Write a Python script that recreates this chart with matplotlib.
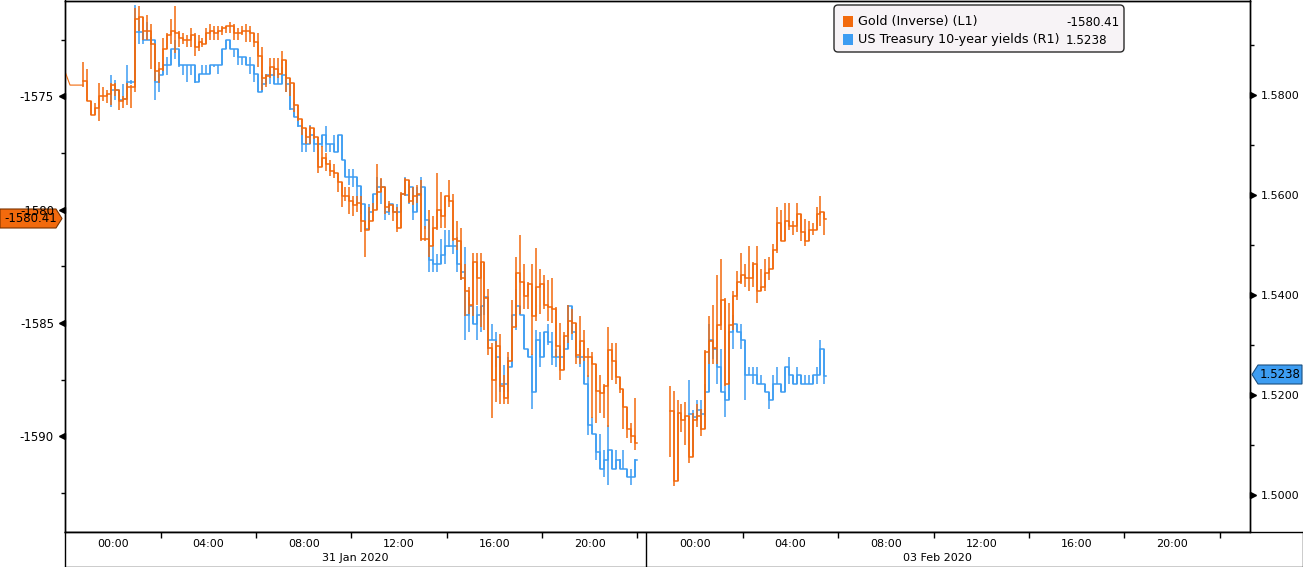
import numpy as np
import matplotlib
matplotlib.use("Agg")
import matplotlib.pyplot as plt
from matplotlib.patches import FancyBboxPatch, Polygon, Rectangle
from matplotlib.transforms import IdentityTransform, blended_transform_factory

# Données (barres de 10 minutes) - heures depuis 31 Jan 00:00 ; la séance du 03 Feb est décalée de 24.43 h
debut_j1 = -1.25
debut_j2 = 24.43 - 1.08
pas = 1 / 6
decalage_j2 = 24.43

heures_avant = [-2.02, -1.81, -1.26]
or_avant = [-1573.9, -1574.5, -1574.5]

or_close_j1 = [
    -1574.3, -1575.2, -1575.8, -1575.5, -1575.0, -1575.0, -1574.9, -1574.5, -1574.7, -1575.2,
    -1575.1, -1574.6, -1574.6, -1571.6, -1571.5, -1572.1, -1572.1, -1572.7, -1573.9, -1573.8,
    -1572.9, -1572.3, -1572.1, -1572.2, -1572.4, -1572.5, -1572.5, -1572.3, -1572.8, -1572.6,
    -1572.7, -1572.2, -1572.1, -1572.2, -1572.1, -1572.0, -1571.9, -1571.9, -1572.2, -1572.2,
    -1572.1, -1572.1, -1572.2, -1572.6, -1573.2, -1574.2, -1574.1, -1573.7, -1573.8, -1574.0,
    -1573.4, -1574.2, -1574.4, -1575.4, -1576.0, -1576.4, -1576.8, -1576.4, -1576.8, -1578.1,
    -1577.7, -1578.0, -1578.3, -1578.4, -1578.8, -1579.4, -1579.4, -1579.6, -1579.8, -1579.7,
    -1580.5, -1580.9, -1580.5, -1580.0, -1579.2, -1579.0, -1579.9, -1579.8, -1580.1, -1580.8,
    -1579.3, -1578.7, -1579.6, -1579.4, -1579.3, -1581.3, -1581.3, -1581.6, -1580.8, -1580.0,
    -1580.3, -1579.4, -1579.6, -1581.3, -1581.4, -1583.0, -1583.6, -1584.2, -1582.3, -1583.0,
    -1582.3, -1583.9, -1586.1, -1587.5, -1586.0, -1587.8, -1588.3, -1586.7, -1585.2, -1582.8,
    -1583.2, -1583.8, -1583.3, -1584.7, -1583.4, -1583.3, -1584.2, -1584.3, -1584.4, -1586.0,
    -1587.1, -1585.6, -1584.9, -1585.0, -1586.4, -1585.8, -1586.5, -1586.5, -1586.8, -1588.0,
    -1588.1, -1587.8, -1586.2, -1586.7, -1587.4, -1587.9, -1588.7, -1589.7, -1590.0, -1590.3,
]
or_haut_j1 = [
    -1573.5, -1573.8, -1575.2, -1575.3, -1574.4, -1574.6, -1574.7, -1574.4, -1574.4, -1574.7,
    -1575.0, -1574.4, -1574.5, -1571.1, -1571.0, -1571.6, -1571.4, -1571.8, -1573.3, -1573.5,
    -1572.4, -1572.2, -1571.6, -1571.0, -1572.1, -1572.2, -1572.3, -1572.0, -1572.2, -1572.3,
    -1572.4, -1572.0, -1571.8, -1571.9, -1571.9, -1571.9, -1571.9, -1571.7, -1571.8, -1572.0,
    -1571.9, -1571.8, -1571.9, -1572.2, -1572.2, -1572.8, -1574.0, -1573.3, -1573.3, -1573.3,
    -1573.0, -1573.5, -1574.2, -1574.8, -1575.4, -1576.1, -1576.7, -1576.3, -1576.4, -1577.3,
    -1577.2, -1577.5, -1577.8, -1578.0, -1578.4, -1578.9, -1579.0, -1579.0, -1579.4, -1579.4,
    -1579.4, -1580.5, -1579.9, -1579.7, -1578.0, -1578.6, -1579.4, -1579.6, -1579.8, -1579.9,
    -1579.2, -1578.6, -1579.4, -1579.0, -1578.9, -1578.7, -1580.7, -1580.0, -1580.3, -1578.4,
    -1579.2, -1579.4, -1578.7, -1579.3, -1580.5, -1580.8, -1582.4, -1583.4, -1581.9, -1581.9,
    -1581.9, -1583.2, -1583.5, -1585.9, -1585.8, -1585.5, -1587.3, -1586.3, -1584.0, -1582.1,
    -1581.1, -1582.4, -1583.2, -1582.4, -1581.7, -1582.6, -1582.9, -1583.1, -1583.0, -1584.3,
    -1585.0, -1585.4, -1584.2, -1584.4, -1585.3, -1584.7, -1585.3, -1586.1, -1586.3, -1587.4,
    -1587.3, -1587.7, -1585.2, -1585.9, -1585.9, -1587.5, -1588.0, -1588.8, -1589.4, -1588.3,
]
or_bas_j1 = [
    -1574.6, -1575.2, -1575.8, -1575.8, -1576.1, -1575.2, -1575.3, -1575.4, -1575.0, -1575.6,
    -1575.5, -1575.4, -1575.5, -1574.8, -1572.1, -1572.5, -1572.5, -1573.8, -1574.3, -1574.4,
    -1573.9, -1572.9, -1572.7, -1573.1, -1572.8, -1572.7, -1572.8, -1572.8, -1573.2, -1573.0,
    -1572.8, -1572.6, -1572.5, -1572.5, -1572.5, -1572.3, -1572.2, -1572.2, -1572.5, -1572.5,
    -1572.3, -1572.6, -1572.6, -1572.8, -1573.7, -1574.7, -1574.6, -1574.2, -1574.1, -1574.2,
    -1574.0, -1574.8, -1575.0, -1575.7, -1576.1, -1576.7, -1577.1, -1577.1, -1576.9, -1578.4,
    -1578.1, -1578.3, -1578.5, -1578.6, -1579.2, -1579.9, -1579.6, -1580.2, -1580.3, -1580.1,
    -1581.0, -1582.1, -1580.8, -1580.3, -1579.4, -1579.2, -1580.2, -1580.1, -1580.5, -1581.0,
    -1579.8, -1579.4, -1579.7, -1579.8, -1579.7, -1581.4, -1581.4, -1582.1, -1580.9, -1580.9,
    -1580.8, -1580.8, -1579.9, -1581.4, -1581.8, -1583.1, -1584.7, -1584.6, -1584.7, -1584.2,
    -1585.2, -1585.3, -1586.4, -1589.2, -1588.5, -1588.6, -1588.6, -1588.6, -1586.7, -1585.0,
    -1584.6, -1584.4, -1584.4, -1586.4, -1584.9, -1584.6, -1584.4, -1584.9, -1585.0, -1586.5,
    -1587.5, -1586.5, -1585.9, -1585.5, -1586.8, -1586.8, -1586.7, -1587.4, -1589.2, -1589.4,
    -1589.0, -1589.2, -1589.6, -1587.5, -1587.7, -1588.1, -1589.7, -1590.1, -1590.3, -1590.6,
]

or_close_j2 = [
    -1588.9, -1592.0, -1589.0, -1589.3, -1589.1, -1590.9, -1589.3, -1589.1, -1589.7, -1586.3,
    -1585.8, -1586.1, -1585.1, -1584.0, -1587.7, -1585.1, -1583.8, -1583.2, -1582.9, -1583.0,
    -1583.0, -1582.4, -1583.6, -1583.4, -1582.8, -1582.6, -1581.8, -1580.6, -1581.4, -1580.5,
    -1580.7, -1580.7, -1580.2, -1581.0, -1581.4, -1580.9, -1580.9, -1580.2, -1580.1, -1580.41,
]
or_haut_j2 = [
    -1587.8, -1588.0, -1588.4, -1588.6, -1588.5, -1589.9, -1589.0, -1588.6, -1588.8, -1586.2,
    -1584.7, -1584.2, -1582.9, -1582.2, -1583.9, -1584.1, -1583.6, -1582.7, -1581.9, -1582.4,
    -1581.6, -1582.3, -1581.6, -1582.6, -1582.2, -1582.1, -1581.5, -1579.9, -1580.0, -1579.7,
    -1579.7, -1580.5, -1579.7, -1580.3, -1580.4, -1580.5, -1580.6, -1579.9, -1579.4, -1580.3,
]
or_bas_j2 = [
    -1590.9, -1592.2, -1589.9, -1589.8, -1590.4, -1591.2, -1590.0, -1589.6, -1590.0, -1588.9,
    -1586.8, -1586.8, -1586.8, -1585.3, -1587.8, -1586.6, -1585.3, -1584.0, -1583.3, -1583.4,
    -1583.6, -1583.4, -1584.1, -1583.6, -1583.6, -1583.1, -1582.6, -1581.9, -1581.4, -1581.4,
    -1580.9, -1581.1, -1581.0, -1581.4, -1581.6, -1581.2, -1581.1, -1580.5, -1580.7, -1581.1,
]

taux_close_j1 = [
    None, None, None, None, None, None, None, 1.5810, 1.5810, 1.5791,
    1.5793, 1.5827, 1.5827, 1.5927, 1.5927, 1.5911, 1.5911, 1.5911, 1.5827, 1.5840,
    1.5860, 1.5860, 1.5893, 1.5893, 1.5860, 1.5860, 1.5860, 1.5860, 1.5827, 1.5843,
    1.5843, 1.5843, 1.5860, 1.5860, 1.5860, 1.5893, 1.5911, 1.5893, 1.5893, 1.5877,
    1.5877, 1.5860, 1.5860, 1.5843, 1.5807, 1.5823, 1.5840, 1.5840, 1.5823, 1.5823,
    1.5840, 1.5823, 1.5773, 1.5757, 1.5738, 1.5703, 1.5703, 1.5721, 1.5703, 1.5703,
    1.5721, 1.5703, 1.5703, 1.5687, 1.5721, 1.5670, 1.5637, 1.5637, 1.5637, 1.5618,
    1.5583, 1.5533, 1.5567, 1.5603, 1.5617, 1.5617, 1.5567, 1.5583, 1.5567, 1.5567,
    1.5603, 1.5600, 1.5617, 1.5567, 1.5600, 1.5617, 1.5550, 1.5470, 1.5463, 1.5463,
    1.5480, 1.5498, 1.5498, 1.5498, 1.5463, 1.5447, 1.5361, 1.5378, 1.5343, 1.5361,
    1.5378, 1.5397, 1.5310, 1.5310, 1.5277, 1.5223, 1.5223, 1.5257, 1.5360, 1.5378,
    1.5360, 1.5293, 1.5277, 1.5207, 1.5310, 1.5277, 1.5327, 1.5307, 1.5277, 1.5277,
    1.5277, 1.5293, 1.5378, 1.5327, 1.5277, 1.5277, 1.5223, 1.5140, 1.5123, 1.5087,
    1.5053, 1.5070, 1.5090, 1.5053, 1.5070, 1.5053, 1.5053, 1.5037, 1.5037, 1.5070,
]
taux_haut_j1 = [
    None, None, None, None, None, None, None, 1.5840, 1.5830, 1.5810,
    1.5823, 1.5860, 1.5830, 1.5980, 1.5950, 1.5927, 1.5947, 1.5917, 1.5911, 1.5847,
    1.5860, 1.5877, 1.5893, 1.5911, 1.5877, 1.5860, 1.5860, 1.5860, 1.5860, 1.5843,
    1.5860, 1.5860, 1.5860, 1.5860, 1.5860, 1.5893, 1.5911, 1.5911, 1.5893, 1.5893,
    1.5877, 1.5877, 1.5877, 1.5860, 1.5827, 1.5840, 1.5840, 1.5857, 1.5857, 1.5843,
    1.5857, 1.5843, 1.5823, 1.5787, 1.5757, 1.5737, 1.5720, 1.5740, 1.5723, 1.5703,
    1.5721, 1.5738, 1.5703, 1.5721, 1.5721, 1.5721, 1.5653, 1.5653, 1.5653, 1.5620,
    1.5602, 1.5583, 1.5583, 1.5603, 1.5637, 1.5633, 1.5583, 1.5583, 1.5583, 1.5583,
    1.5603, 1.5637, 1.5623, 1.5583, 1.5617, 1.5637, 1.5617, 1.5533, 1.5500, 1.5483,
    1.5513, 1.5530, 1.5530, 1.5550, 1.5517, 1.5463, 1.5497, 1.5397, 1.5378, 1.5378,
    1.5378, 1.5397, 1.5397, 1.5343, 1.5327, 1.5277, 1.5260, 1.5277, 1.5360, 1.5413,
    1.5378, 1.5360, 1.5293, 1.5283, 1.5330, 1.5327, 1.5327, 1.5343, 1.5327, 1.5293,
    1.5293, 1.5310, 1.5380, 1.5360, 1.5327, 1.5293, 1.5283, 1.5240, 1.5157, 1.5123,
    1.5123, 1.5090, 1.5140, 1.5090, 1.5090, 1.5073, 1.5090, 1.5053, 1.5053, 1.5073,
]
taux_bas_j1 = [
    None, None, None, None, None, None, None, 1.5777, 1.5790, 1.5790,
    1.5790, 1.5823, 1.5823, 1.5827, 1.5903, 1.5903, 1.5910, 1.5900, 1.5790, 1.5807,
    1.5840, 1.5840, 1.5860, 1.5873, 1.5857, 1.5840, 1.5827, 1.5840, 1.5825, 1.5827,
    1.5843, 1.5843, 1.5843, 1.5857, 1.5843, 1.5860, 1.5893, 1.5893, 1.5877, 1.5860,
    1.5860, 1.5860, 1.5843, 1.5827, 1.5807, 1.5807, 1.5823, 1.5823, 1.5823, 1.5823,
    1.5823, 1.5807, 1.5770, 1.5757, 1.5737, 1.5687, 1.5687, 1.5720, 1.5687, 1.5670,
    1.5697, 1.5687, 1.5687, 1.5687, 1.5687, 1.5670, 1.5637, 1.5620, 1.5617, 1.5583,
    1.5563, 1.5530, 1.5563, 1.5567, 1.5600, 1.5583, 1.5550, 1.5560, 1.5567, 1.5563,
    1.5567, 1.5600, 1.5583, 1.5550, 1.5583, 1.5600, 1.5533, 1.5447, 1.5447, 1.5447,
    1.5480, 1.5463, 1.5497, 1.5483, 1.5447, 1.5430, 1.5310, 1.5327, 1.5343, 1.5310,
    1.5327, 1.5360, 1.5293, 1.5310, 1.5257, 1.5207, 1.5207, 1.5207, 1.5257, 1.5330,
    1.5360, 1.5293, 1.5277, 1.5173, 1.5207, 1.5257, 1.5277, 1.5300, 1.5260, 1.5257,
    1.5257, 1.5277, 1.5330, 1.5310, 1.5277, 1.5257, 1.5223, 1.5120, 1.5123, 1.5070,
    1.5053, 1.5037, 1.5020, 1.5053, 1.5053, 1.5053, 1.5053, 1.5037, 1.5020, 1.5037,
]

taux_close_j2 = [
    None, None, None, None, None, 1.5163, 1.5157, 1.5170, 1.5163, 1.5207,
    1.5310, 1.5293, 1.5257, 1.5207, 1.5190, 1.5327, 1.5343, 1.5327, 1.5310, 1.5240,
    1.5240, 1.5240, 1.5223, 1.5223, 1.5207, 1.5190, 1.5223, 1.5223, 1.5207, 1.5257,
    1.5240, 1.5223, 1.5240, 1.5223, 1.5223, 1.5223, 1.5240, 1.5240, 1.5293, 1.5238,
]
taux_haut_j2 = [
    None, None, None, None, None, 1.5230, 1.5170, 1.5190, 1.5190, 1.5223,
    1.5343, 1.5310, 1.5293, 1.5293, 1.5223, 1.5327, 1.5360, 1.5343, 1.5343, 1.5310,
    1.5257, 1.5257, 1.5257, 1.5240, 1.5223, 1.5207, 1.5240, 1.5257, 1.5223, 1.5257,
    1.5277, 1.5240, 1.5257, 1.5240, 1.5240, 1.5240, 1.5240, 1.5257, 1.5310, 1.5293,
]
taux_bas_j2 = [
    None, None, None, None, None, 1.5150, 1.5087, 1.5150, 1.5130, 1.5157,
    1.5207, 1.5273, 1.5223, 1.5207, 1.5157, 1.5190, 1.5293, 1.5327, 1.5293, 1.5190,
    1.5240, 1.5223, 1.5223, 1.5223, 1.5207, 1.5173, 1.5190, 1.5223, 1.5207, 1.5223,
    1.5223, 1.5223, 1.5223, 1.5223, 1.5223, 1.5223, 1.5223, 1.5223, 1.5240, 1.5223,
]

dernier_or = "-1580.41"
dernier_taux = "1.5238"

etiquettes_heures = ["00:00", "04:00", "08:00", "12:00", "16:00", "20:00"]
heures_etiquettes = [0, 4, 8, 12, 16, 20]
heures_graduations = [2, 6, 10, 14, 18, 22]
dates = ["31 Jan 2020", "03 Feb 2020"]

ORANGE = "#f26a0d"
BLEU = "#3d9df2"
W, H = 1303, 567


def tracer_barres(axe, debut, close, haut, bas, couleur):
    c = np.array(close, dtype=float)
    x = debut + pas * np.arange(len(c))
    ok = ~np.isnan(c)
    x, c = x[ok], c[ok]
    hi = np.array(haut, dtype=float)[ok]
    lo = np.array(bas, dtype=float)[ok]
    prec = np.r_[c[0], c[:-1]]
    hi = np.maximum.reduce([hi, c, prec])
    lo = np.minimum.reduce([lo, c, prec])
    axe.vlines(x, lo, hi, color=couleur, lw=1.1)
    axe.step(np.r_[x, x[-1] + pas * 0.5], np.r_[c, c[-1]], where="post", color=couleur, lw=1.1)


fig = plt.figure(figsize=(W / 100, H / 100), dpi=100)
fig.patch.set_facecolor("white")


def fx(px):
    return px / W


def fy(py):
    return 1 - py / H


ax = fig.add_axes([fx(65), fy(532), fx(1250) - fx(65), fy(0.5) - fy(532)])
ax2 = ax.twinx()
ax_d = fig.add_axes([fx(65), fy(566.5), fx(1302.5) - fx(65), fy(532) - fy(566.5)])

px_par_heure = 23.83
x0 = -2.02
ax.set_xlim(x0, x0 + (1250 - 65) / px_par_heure)
ax.set_ylim(-1575 - (532 - 96) / 22.67, -1575 + 96 / 22.67)
ax2.set_ylim(1.58 - (532 - 95) / 5000, 1.58 + 95 / 5000)

# séries
ax.plot(heures_avant, or_avant, color=ORANGE, lw=0.8)
tracer_barres(ax, debut_j1, or_close_j1, or_haut_j1, or_bas_j1, ORANGE)
tracer_barres(ax, debut_j2, or_close_j2, or_haut_j2, or_bas_j2, ORANGE)
tracer_barres(ax2, debut_j1, taux_close_j1, taux_haut_j1, taux_bas_j1, BLEU)
tracer_barres(ax2, debut_j2, taux_close_j2, taux_haut_j2, taux_bas_j2, BLEU)
ax.set_zorder(ax2.get_zorder() + 1)
ax.patch.set_visible(False)

# axes y
ax.set_xticks([])
ax.set_yticks([-1590, -1585, -1580, -1575])
ax.set_yticklabels(["-1590", "-1585", "-1580", "-1575"])
ax.set_yticks([-1592.5, -1587.5, -1582.5, -1577.5, -1572.5], minor=True)
ax.tick_params(axis="y", which="major", length=0, pad=8, labelsize=8.5)
ax.tick_params(axis="y", which="minor", length=3, direction="out", width=1)
ax2.set_yticks([1.50, 1.52, 1.54, 1.56, 1.58])
ax2.set_yticklabels(["1.5000", "1.5200", "1.5400", "1.5600", "1.5800"])
ax2.set_yticks([1.51, 1.53, 1.55, 1.57, 1.59], minor=True)
ax2.tick_params(axis="y", which="major", length=0, pad=8, labelsize=8)
ax2.tick_params(axis="y", which="minor", length=3, direction="out", width=1)

tr_g = blended_transform_factory(ax.transAxes, ax.transData)
for v in [-1590, -1585, -1580, -1575]:
    ax.plot([-0.0028], [v], marker="<", ms=5, color="black", transform=tr_g, clip_on=False)
tr_d = blended_transform_factory(ax2.transAxes, ax2.transData)
for v in [1.50, 1.52, 1.54, 1.56, 1.58]:
    ax2.plot([1.0028], [v], marker=">", ms=5, color="black", transform=tr_d, clip_on=False)

for a in (ax, ax2, ax_d):
    for s in a.spines.values():
        s.set_color("black")
        s.set_linewidth(1)

# axe des dates
ax_d.set_xlim(x0, x0 + (1302.5 - 65) / px_par_heure)
ax_d.set_ylim(0, 1)
ax_d.set_yticks([])
graduations = heures_graduations + [h + decalage_j2 for h in heures_graduations]
ax_d.set_xticks(graduations)
ax_d.tick_params(axis="x", direction="in", length=4, top=True, bottom=False,
                 labelbottom=False, width=1)
ax_d.axvline(22.35, color="black", lw=1)
tr_x = blended_transform_factory(ax_d.transData, ax_d.transAxes)
for jour, decal in enumerate([0, decalage_j2]):
    for h, lab in zip(heures_etiquettes, etiquettes_heures):
        ax_d.text(h + decal, 0.66, lab, transform=tr_x, ha="center", va="center", fontsize=8)
    ax_d.text(10.15 + decal, 0.24, dates[jour], transform=tr_x, ha="center", va="center", fontsize=8)

# légende
ident = IdentityTransform()
fig.add_artist(FancyBboxPatch((834, H - 52), 290, 47, boxstyle="round,pad=0,rounding_size=4",
                              transform=ident, facecolor="#f7f3f6", edgecolor="#2a2a2a", lw=1))
fig.add_artist(Rectangle((843, H - 27), 10, 11, transform=ident, facecolor=ORANGE, edgecolor="none"))
fig.add_artist(Rectangle((843, H - 45), 10, 11, transform=ident, facecolor=BLEU, edgecolor="none"))
fig.text(858, H - 22, "Gold (Inverse) (L1)", transform=ident, fontsize=9.2, va="center")
fig.text(858, H - 40, "US Treasury 10-year yields (R1)", transform=ident, fontsize=9.2, va="center")
fig.text(1066, H - 22, dernier_or, transform=ident, fontsize=8.6, va="center")
fig.text(1066, H - 40, dernier_taux, transform=ident, fontsize=8.6, va="center")

# étiquettes de dernière valeur
fig.add_artist(Polygon([(0, H - 209), (56, H - 209), (62, H - 218.5), (56, H - 228), (0, H - 228)],
                       closed=True, transform=ident, facecolor=ORANGE, edgecolor="#7a3300", lw=0.8))
fig.text(31, H - 218.5, dernier_or, transform=ident, fontsize=8.5, ha="center", va="center")
fig.add_artist(Polygon([(1252, H - 374.5), (1258, H - 365), (1302, H - 365), (1302, H - 384), (1258, H - 384)],
                       closed=True, transform=ident, facecolor=BLEU, edgecolor="#1a4f80", lw=0.8))
fig.text(1280, H - 374.5, dernier_taux, transform=ident, fontsize=8.5, ha="center", va="center")

fig.savefig("out.png", dpi=100)
